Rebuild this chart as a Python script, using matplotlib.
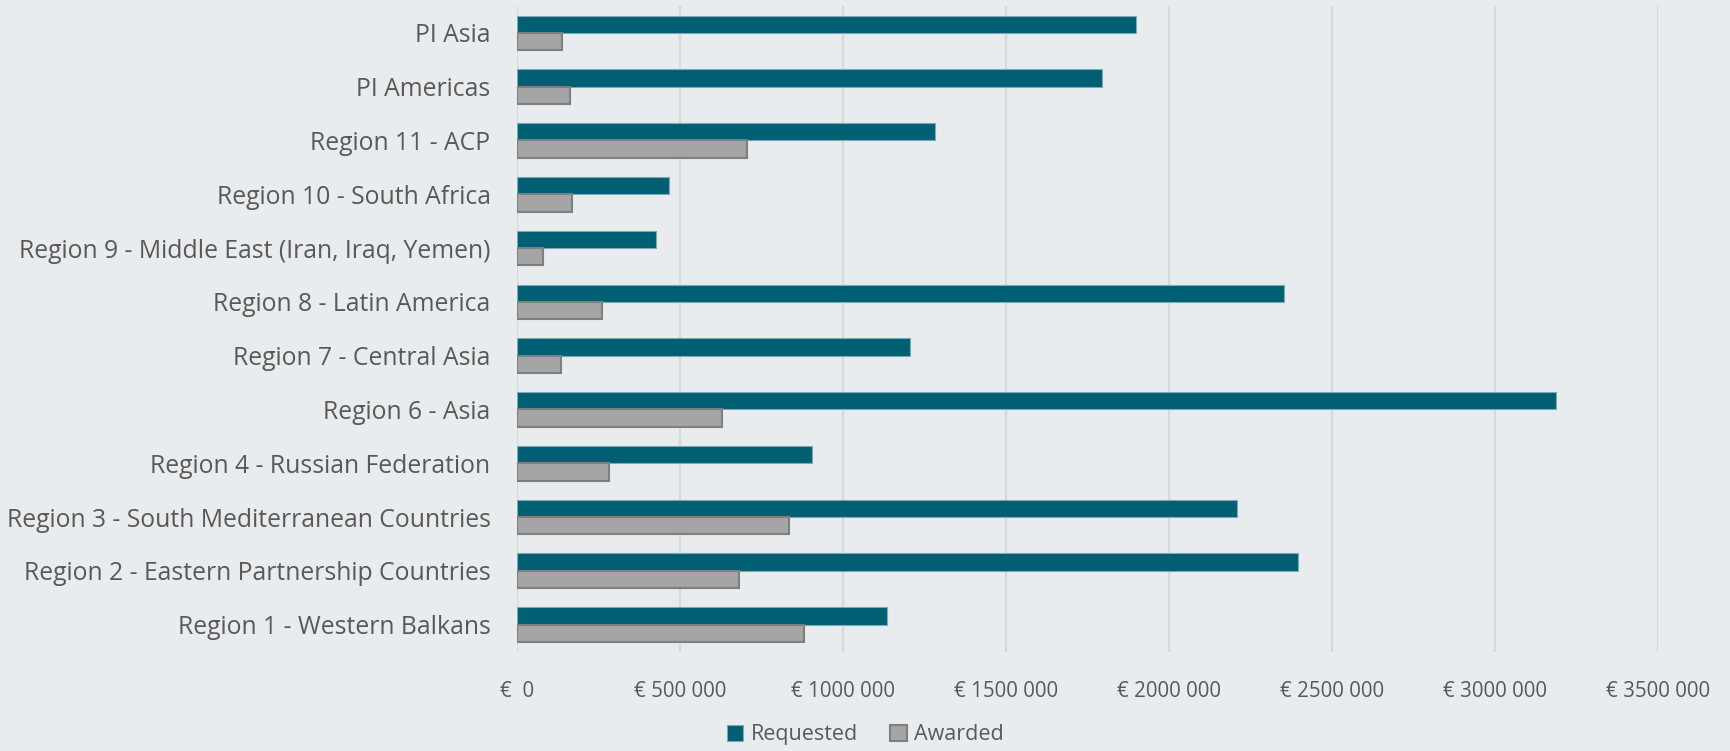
import matplotlib
matplotlib.use("Agg")
import matplotlib.pyplot as plt
import numpy as np

plt.rcParams['font.family'] = ['Open Sans', 'DejaVu Sans']

# bottom to top, as drawn on the category axis
regions = ["Region 1 - Western Balkans",
           "Region 2 - Eastern Partnership Countries",
           "Region 3 - South Mediterranean Countries",
           "Region 4 - Russian Federation",
           "Region 6 - Asia",
           "Region 7 - Central Asia",
           "Region 8 - Latin America",
           "Region 9 - Middle East (Iran, Iraq, Yemen)",
           "Region 10 - South Africa",
           "Region 11 - ACP",
           "PI Americas",
           "PI Asia"]
requested = [1134000, 2397000, 2210000, 905000, 3186000, 1205000,
             2353000, 425000, 466000, 1281000, 1795000, 1898000]
awarded = [881000, 681000, 833000, 282000, 629000, 135000,
           262000, 79000, 168000, 705000, 163000, 137000]
xticks = [0, 500000, 1000000, 1500000, 2000000, 2500000, 3000000, 3500000]
xticklabels = ["€  0", "€ 500 000", "€ 1000 000", "€ 1500 000", "€ 2000 000",
               "€ 2500 000", "€ 3000 000", "€ 3500 000"]

bg = '#E8ECEF'
c_req = '#005F73'
c_aw = '#A5A5A5'
txt = '#595959'

fig = plt.figure(figsize=(17.31, 7.51), dpi=100, facecolor=bg)
ax = fig.add_axes([517/1731, 1-651.5/751, 1141/1731, 645.5/751])
ax.set_facecolor(bg)

y = np.arange(len(regions))
h = 0.322
ax.barh(y + h/2, requested, height=h, color=c_req, edgecolor='#7FA8B5',
        linewidth=0.8, label='Requested', zorder=3)
ax.barh(y - h/2, awarded, height=h, color=c_aw, edgecolor='#7F7F7F',
        linewidth=1.5, label='Awarded', zorder=3)

ax.set_xlim(0, 3500000)
ax.set_ylim(-0.5, len(regions) - 0.5)
ax.set_xticks(xticks)
ax.set_xticklabels(xticklabels, fontsize=14.8, color=txt)
ax.set_yticks(y)
ax.set_yticklabels(regions, fontsize=17.8, color=txt)
ax.tick_params(axis='x', length=0, pad=21)
ax.tick_params(axis='y', length=0, pad=19)
ax.grid(axis='x', color='#D9D9D9', linewidth=1.6, zorder=0)
for s in ax.spines.values():
    s.set_visible(False)

leg = fig.legend(loc='lower center', bbox_to_anchor=(0.5, -0.018), ncol=2,
                 frameon=False, fontsize=15.5, handlelength=0.75,
                 handleheight=0.75, columnspacing=1.5, handletextpad=0.35)
for t in leg.get_texts():
    t.set_color(txt)

fig.savefig("out.png", dpi=100, facecolor=bg)
